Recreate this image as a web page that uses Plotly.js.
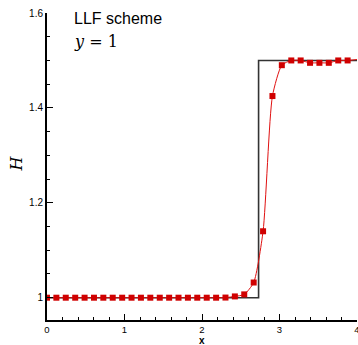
<!DOCTYPE html>
<html><head><meta charset="utf-8">
<script src="https://cdn.plot.ly/plotly-3.0.1.min.js"></script>
<style>html,body{margin:0;padding:0;background:#fff}#c{width:358px;height:345px}</style>
</head><body><div id="c"></div>
<script>
var exactX = [0, 2.73, 2.73, 4];
var exactH = [1.0, 1.0, 1.5, 1.5];
var numX = [0, 0.121, 0.242, 0.364, 0.485, 0.606, 0.727, 0.848, 0.970, 1.091, 1.212, 1.333, 1.455, 1.576, 1.697, 1.818, 1.939, 2.061, 2.182, 2.303, 2.424, 2.545, 2.667, 2.788, 2.909, 3.030, 3.152, 3.273, 3.394, 3.515, 3.636, 3.758, 3.879, 4.0];
var numH = [1.0, 1.0, 1.0, 1.0, 1.0, 1.0, 1.0, 1.0, 1.0, 1.0, 1.0, 1.0, 1.0, 1.0, 1.0, 1.0, 1.0, 1.0, 1.0, 1.0003, 1.0027, 1.007, 1.032, 1.140, 1.425, 1.490, 1.500, 1.500, 1.495, 1.495, 1.495, 1.500, 1.500, 1.502];
var xTicks = [0, 1, 2, 3, 4];
var yTicks = [1, 1.2, 1.4, 1.6];

var traces = [
  {x: exactX, y: exactH, mode: 'lines', line: {color: '#333', width: 1.6}, hoverinfo: 'skip'},
  {x: numX, y: numH, mode: 'lines', line: {color: '#e01010', width: 1, shape: 'spline', smoothing: 0.6}},
  {x: numX.slice(0, numX.length - 1), y: numH.slice(0, numH.length - 1), mode: 'markers',
   marker: {symbol: 'square', size: 6, color: '#d00000', line: {width: 0}}}
];
var sans = 'Liberation Sans, Arial, sans-serif';
var serif = 'DejaVu Serif, Liberation Serif, serif';
var layout = {
  width: 358, height: 345,
  margin: {l: 47, r: 1, t: 13, b: 25},
  showlegend: false,
  paper_bgcolor: '#fff', plot_bgcolor: '#fff',
  font: {family: sans, size: 10, color: '#000'},
  xaxis: {
    range: [0, 4], tickmode: 'array', tickvals: xTicks, ticks: 'inside', ticklen: 6, tickwidth: 1, tickcolor: '#000',
    showgrid: false, zeroline: false, showline: true, linecolor: '#000', linewidth: 2,
    minor: {tickmode: 'linear', tick0: 0, dtick: 0.2, ticks: 'inside', ticklen: 3, tickwidth: 1, tickcolor: '#000', showgrid: false},
    tickfont: {size: 9.5}, ticklabelstandoff: 0, ticklabeloverflow: 'allow'
  },
  yaxis: {
    range: [0.953, 1.6], tickmode: 'array', tickvals: yTicks, ticks: 'inside', ticklen: 6, tickwidth: 1, tickcolor: '#000',
    showgrid: false, zeroline: false, showline: true, linecolor: '#000', linewidth: 2,
    minor: {tickmode: 'linear', tick0: 1, dtick: 0.05, ticks: 'inside', ticklen: 3, tickwidth: 1, tickcolor: '#000', showgrid: false},
    tickfont: {size: 10}, ticklabeloverflow: 'allow'
  },
  annotations: [
    {text: '<b>x</b>', xref: 'paper', yref: 'paper', x: 0.5, y: 0, xanchor: 'center', yanchor: 'top', yshift: -13.5,
     borderpad: 0, showarrow: false, font: {size: 10, family: sans}},
    {text: '<i>H</i>', xref: 'paper', yref: 'paper', x: 0, y: 0.51, xanchor: 'center', yanchor: 'middle', xshift: -31,
     textangle: -90, showarrow: false, font: {size: 16, family: serif}},
    {text: 'LLF scheme', xref: 'paper', yref: 'paper', x: 0.08, y: 1.015, xanchor: 'left', yanchor: 'top',
     showarrow: false, font: {size: 16, family: sans}},
    {text: '<i>y</i> = 1', xref: 'paper', yref: 'paper', x: 0.08, y: 0.945, xanchor: 'left', yanchor: 'top',
     showarrow: false, font: {size: 16, family: serif}}
  ]
};
Plotly.newPlot('c', traces, layout, {displayModeBar: false, staticPlot: true});
</script></body></html>
